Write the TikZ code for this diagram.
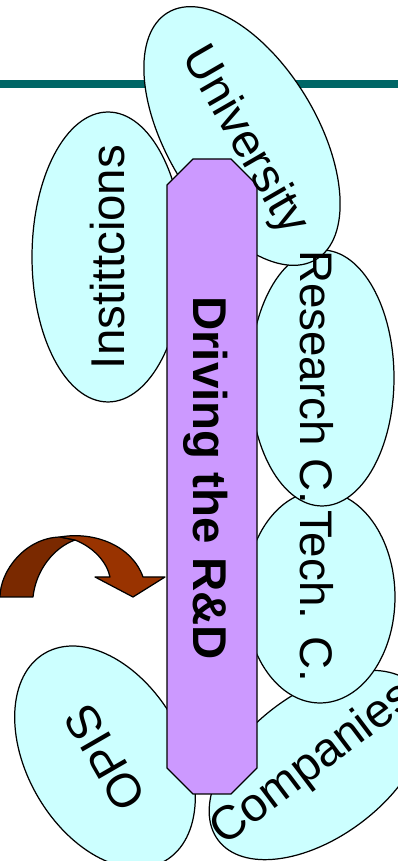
\documentclass[tikz,border=0pt]{standalone}
\usepackage{fontspec}
\setmainfont{Liberation Sans}
\usepackage{xcolor}
\usepackage{tikz}
\usetikzlibrary{shapes.geometric,positioning}

\definecolor{bubblecyan}{HTML}{CCFFFF}
\definecolor{boxviolet}{HTML}{CC99FF}
\definecolor{railteal}{HTML}{006666}
\definecolor{arrowdark}{HTML}{7A2900}
\definecolor{arrowlight}{HTML}{993300}

\begin{document}
\begin{tikzpicture}[
    x=0.02cm, y=0.02cm,
    bubble/.style={ellipse, draw, fill=bubblecyan, line width=0.7pt, inner sep=0pt},
    lbl/.style={font=\fontsize{27}{32}\selectfont, inner sep=0pt},
    bendarrow/.style={draw=black, line width=0.7pt, line join=round}
]
\useasboundingbox (0,0) rectangle (398,861);

% Title rule
\draw[railteal, line width=0.16cm] (0,777) -- (398,777);

% Partner bubbles
\node[bubble, minimum width=5cm, minimum height=2.88cm, rotate=37] (comp) at (318,96) {};
\node[bubble, minimum width=4.24cm, minimum height=3cm, rotate=-90] (tech) at (320,264) {};
\node[bubble, minimum width=5.12cm, minimum height=2.88cm, rotate=-90] (res) at (322,483) {};
\node[bubble, minimum width=5.76cm, minimum height=3cm, rotate=-59] (univ) at (242,725) {};
\node[bubble, minimum width=5.8cm, minimum height=3.04cm, rotate=90] (inst) at (108,604) {};
\node[bubble, minimum width=4.8cm, minimum height=3.12cm, rotate=120] (opis) at (105,104) {};

% Central bar
\draw[fill=boxviolet, line width=0.7pt] (193,702) -- (231,702) -- (257,676) -- (257,93)
    -- (231,67) -- (193,67) -- (167,93) -- (167,676) -- cycle;
\node[font=\fontsize{27}{32}\selectfont\bfseries, inner sep=0pt, rotate=-90] (rd) at (206,383) {Driving the R\&D};

% Bubble labels
\node[lbl, rotate=-60] (univtxt) at (244,720) {University};
\node[lbl, rotate=90] (insttxt) at (108,604) {Instittcions};
\node[lbl, font=\fontsize{26}{30}\selectfont, rotate=-90] (restxt) at (317,484) {Research C.};
\node[lbl, font=\fontsize{26}{30}\selectfont, rotate=-90] (techtxt) at (317,265) {Tech. C.};
\node[lbl, rotate=37] (comptxt) at (313,96) {Companies};
\node[lbl, rotate=120] (opistxt) at (105,103) {OPIS};

% Curved arrow
\filldraw[bendarrow, fill=arrowdark] (0,264) .. controls (0,290) and (25,323) .. (60,324)
    -- (75,321) .. controls (55,314) and (36,292) .. (33,264) -- cycle;
\filldraw[bendarrow, fill=arrowlight] (60,324) .. controls (95,330) and (132,315) .. (143,284)
    -- (165,284) -- (133,264) -- (95,284) -- (110,284)
    .. controls (107,298) and (95,313) .. (75,321) -- cycle;

\end{tikzpicture}
\end{document}
